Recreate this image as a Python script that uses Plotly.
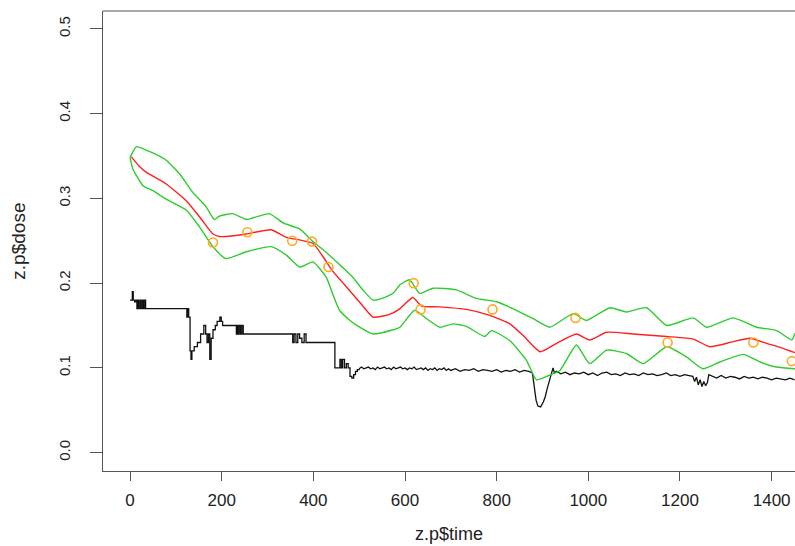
import plotly.graph_objects as go

# ---- data ----
fit_t = [3, 20, 35, 79, 123, 152, 170, 181, 195, 209, 254, 308, 341, 370, 399, 420, 441, 460, 478, 505, 530,
         550, 574, 589, 617, 636, 676, 734, 785, 829, 860, 895, 931, 974, 1003, 1040, 1098, 1171, 1229,
         1265, 1316, 1353, 1389, 1420, 1451]
fit_v = [0.349, 0.338, 0.331, 0.317, 0.297, 0.278, 0.265, 0.258, 0.255, 0.255, 0.258, 0.263, 0.254,
         0.251, 0.247, 0.232, 0.215, 0.203, 0.192, 0.175, 0.160, 0.161, 0.165, 0.170, 0.183, 0.173,
         0.172, 0.169, 0.162, 0.152, 0.137, 0.119, 0.129, 0.140, 0.133, 0.142, 0.140, 0.137, 0.134,
         0.125, 0.131, 0.135, 0.129, 0.124, 0.118]

upper_t = [0, 14, 35, 60, 79, 108, 137, 166, 184, 195, 224, 254, 304, 334, 370, 399, 420, 443, 465, 486,
           508, 530, 550, 574, 589, 610, 632, 661, 712, 756, 800, 843, 880, 916, 967, 996, 1047, 1083,
           1127, 1171, 1229, 1258, 1316, 1367, 1411, 1444, 1451]
upper_v = [0.348, 0.361, 0.357, 0.351, 0.345, 0.329, 0.307, 0.290, 0.275, 0.279, 0.282, 0.275, 0.282,
           0.271, 0.264, 0.249, 0.240, 0.229, 0.218, 0.207, 0.192, 0.180, 0.182, 0.188, 0.198, 0.204,
           0.188, 0.194, 0.192, 0.182, 0.178, 0.168, 0.158, 0.148, 0.164, 0.156, 0.171, 0.166, 0.171,
           0.150, 0.159, 0.148, 0.159, 0.148, 0.144, 0.133, 0.141]

lower_t = [0, 6, 28, 50, 79, 123, 152, 181, 209, 254, 308, 341, 370, 399, 428, 443, 457, 480, 501, 530,
           574, 589, 621, 647, 676, 705, 734, 774, 789, 829, 865, 887, 909, 938, 974, 1003, 1040, 1083,
           1120, 1171, 1214, 1250, 1287, 1338, 1375, 1411, 1451]
lower_v = [0.348, 0.335, 0.315, 0.309, 0.299, 0.286, 0.266, 0.243, 0.229, 0.237, 0.243, 0.233, 0.219,
           0.225, 0.207, 0.186, 0.168, 0.156, 0.148, 0.140, 0.145, 0.148, 0.168, 0.158, 0.148, 0.152,
           0.149, 0.137, 0.144, 0.132, 0.109, 0.086, 0.090, 0.097, 0.127, 0.105, 0.121, 0.117, 0.105,
           0.125, 0.113, 0.099, 0.107, 0.116, 0.107, 0.101, 0.099]

obs_t = [181, 256, 354, 397, 433, 619, 634, 791, 972, 1173, 1360, 1444]
obs_v = [0.248, 0.260, 0.250, 0.249, 0.219, 0.200, 0.169, 0.169, 0.159, 0.130, 0.130, 0.108]

# observed dose: stepped early part
dose_step_t = [0, 5, 7, 10, 13, 15, 17, 19, 22, 24, 27, 29, 32, 34, 124, 126, 128, 131, 133, 135, 140, 147,
               154, 161, 165, 168, 171, 174, 177, 181, 186, 190, 196, 199, 202, 232, 234, 236, 238, 241,
               244, 247, 355, 358, 362, 366, 370, 375, 380, 384, 447, 458, 461, 464, 468, 472, 476, 480,
               484, 488, 492, 496, 500]
dose_step_v = [0.180, 0.190, 0.180, 0.178, 0.180, 0.170, 0.180, 0.170, 0.180, 0.170, 0.180, 0.170, 0.180,
               0.170, 0.160, 0.170, 0.160, 0.120, 0.110, 0.120, 0.125, 0.130, 0.140, 0.150, 0.140, 0.130,
               0.140, 0.110, 0.135, 0.145, 0.150, 0.155, 0.160, 0.155, 0.150, 0.140, 0.150, 0.140, 0.150,
               0.140, 0.150, 0.140, 0.130, 0.140, 0.130, 0.140, 0.135, 0.130, 0.140, 0.130, 0.100, 0.110,
               0.100, 0.110, 0.100, 0.105, 0.100, 0.090, 0.088, 0.092, 0.096, 0.098, 0.099]
# observed dose: noisy later part
dose_noise_t = [500, 505, 510, 515, 520, 525, 530, 535, 540, 545, 550, 555, 560, 565, 570, 575, 580, 585, 590, 595,
                600, 605, 610, 615, 620, 625, 630, 635, 640, 645, 650, 655, 660, 665, 670, 675, 680, 685, 690, 695,
                700, 710, 720, 730, 740, 750, 760, 770, 780, 790,
                800, 810, 820, 830, 840, 850, 860, 870,
                878, 882, 886, 890, 896, 902, 906, 910, 915, 920, 923, 926, 930,
                940, 950, 960, 970, 980, 990, 1000, 1010, 1020, 1030, 1040, 1050, 1060, 1070, 1080,
                1090, 1100, 1110, 1120, 1130, 1140, 1150, 1160, 1170, 1180, 1190, 1200, 1210, 1220,
                1228, 1232, 1236, 1240, 1244, 1248, 1252, 1256, 1260, 1263,
                1270, 1280, 1290, 1300, 1310, 1320, 1330, 1340, 1350, 1360, 1370, 1380, 1390, 1400,
                1410, 1420, 1430, 1440, 1450]
dose_noise_v = [0.099, 0.101, 0.099, 0.100, 0.101, 0.099, 0.100, 0.098, 0.101, 0.099, 0.100, 0.101, 0.099, 0.100,
                0.098, 0.101, 0.099, 0.100, 0.101, 0.099,
                0.100, 0.098, 0.100, 0.099, 0.101, 0.098, 0.099, 0.100, 0.098, 0.100, 0.097, 0.099, 0.098,
                0.100, 0.097, 0.099, 0.098, 0.100, 0.097, 0.099,
                0.097, 0.099, 0.096, 0.098, 0.097, 0.099, 0.096, 0.098, 0.097, 0.096,
                0.098, 0.095, 0.097, 0.096, 0.098, 0.095, 0.097, 0.096,
                0.094, 0.080, 0.062, 0.055, 0.054, 0.060, 0.066, 0.075, 0.085, 0.092, 0.100, 0.094, 0.096,
                0.093, 0.095, 0.092, 0.094, 0.093, 0.095, 0.092, 0.094, 0.091, 0.094, 0.095, 0.092, 0.093,
                0.091, 0.094, 0.092, 0.093, 0.091, 0.094, 0.092, 0.093, 0.091, 0.092, 0.094, 0.091, 0.092,
                0.090, 0.092, 0.091,
                0.090, 0.084, 0.089, 0.080, 0.086, 0.078, 0.084, 0.079, 0.083, 0.092,
                0.090, 0.088, 0.091, 0.088, 0.090, 0.089, 0.087, 0.090, 0.088, 0.089, 0.087, 0.089, 0.088,
                0.086, 0.088, 0.087, 0.086, 0.088, 0.086]

x_ticks = [0, 200, 400, 600, 800, 1000, 1200, 1400]
y_ticks = [0.0, 0.1, 0.2, 0.3, 0.4, 0.5]
y_tick_text = ["0.0", "0.1", "0.2", "0.3", "0.4", "0.5"]
x_label = "z.p$time"
y_label = "z.p$dose"

# ---- figure ----
fig = go.Figure()
fig.add_trace(go.Scatter(x=dose_step_t, y=dose_step_v, mode="lines",
                         line=dict(color="#111111", width=1.3, shape="hv")))
fig.add_trace(go.Scatter(x=dose_noise_t, y=dose_noise_v, mode="lines",
                         line=dict(color="#111111", width=1.3)))
fig.add_trace(go.Scatter(x=upper_t, y=upper_v, mode="lines",
                         line=dict(color="#2ecc2e", width=1.4, shape="spline", smoothing=0.5)))
fig.add_trace(go.Scatter(x=lower_t, y=lower_v, mode="lines",
                         line=dict(color="#2ecc2e", width=1.4, shape="spline", smoothing=0.5)))
fig.add_trace(go.Scatter(x=fit_t, y=fit_v, mode="lines",
                         line=dict(color="#ff2020", width=1.4, shape="spline", smoothing=0.5)))
fig.add_trace(go.Scatter(x=obs_t, y=obs_v, mode="markers",
                         marker=dict(symbol="circle-open", size=9, color="#ffaa22", line=dict(width=1.6))))

axis_col = "#555555"
fig.update_layout(
    width=795, height=546,
    margin=dict(l=103, r=0, t=11, b=75),
    plot_bgcolor="white", paper_bgcolor="white",
    showlegend=False,
    font=dict(family="Liberation Sans, Arial, sans-serif", color="#222222"),
    xaxis=dict(range=[-59, 1451], tickvals=x_ticks, showline=True, linecolor=axis_col, linewidth=1.2,
               ticks="outside", ticklen=9, tickcolor=axis_col, tickwidth=1.2, showgrid=False,
               zeroline=False, tickfont=dict(size=17), ticklabelstandoff=4),
    yaxis=dict(range=[-0.0216, 0.521], tickvals=y_ticks, ticktext=y_tick_text, tickangle=-90,
               showline=True, linecolor=axis_col, linewidth=1.2, ticks="outside", ticklen=12,
               tickcolor=axis_col, tickwidth=1.2, showgrid=False, zeroline=False,
               tickfont=dict(size=15), ticklabelstandoff=14),
    shapes=[dict(type="line", xref="paper", yref="paper", x0=0, x1=1, y0=1, y1=1,
                 line=dict(color=axis_col, width=1.2))],
    annotations=[
        dict(text=x_label, xref="paper", yref="paper", x=0.5, y=-(534 - 471) / 460,
             xanchor="center", yanchor="middle", showarrow=False, font=dict(size=18)),
        dict(text=y_label, xref="paper", yref="paper", x=-(103.3 - 18) / 691.7, y=0.5,
             xanchor="center", yanchor="middle", textangle=-90, showarrow=False, font=dict(size=19)),
    ],
)

fig.write_html("out.html", config={"displayModeBar": False},
               post_script="document.body.style.margin='0px';document.body.style.overflow='hidden';")
